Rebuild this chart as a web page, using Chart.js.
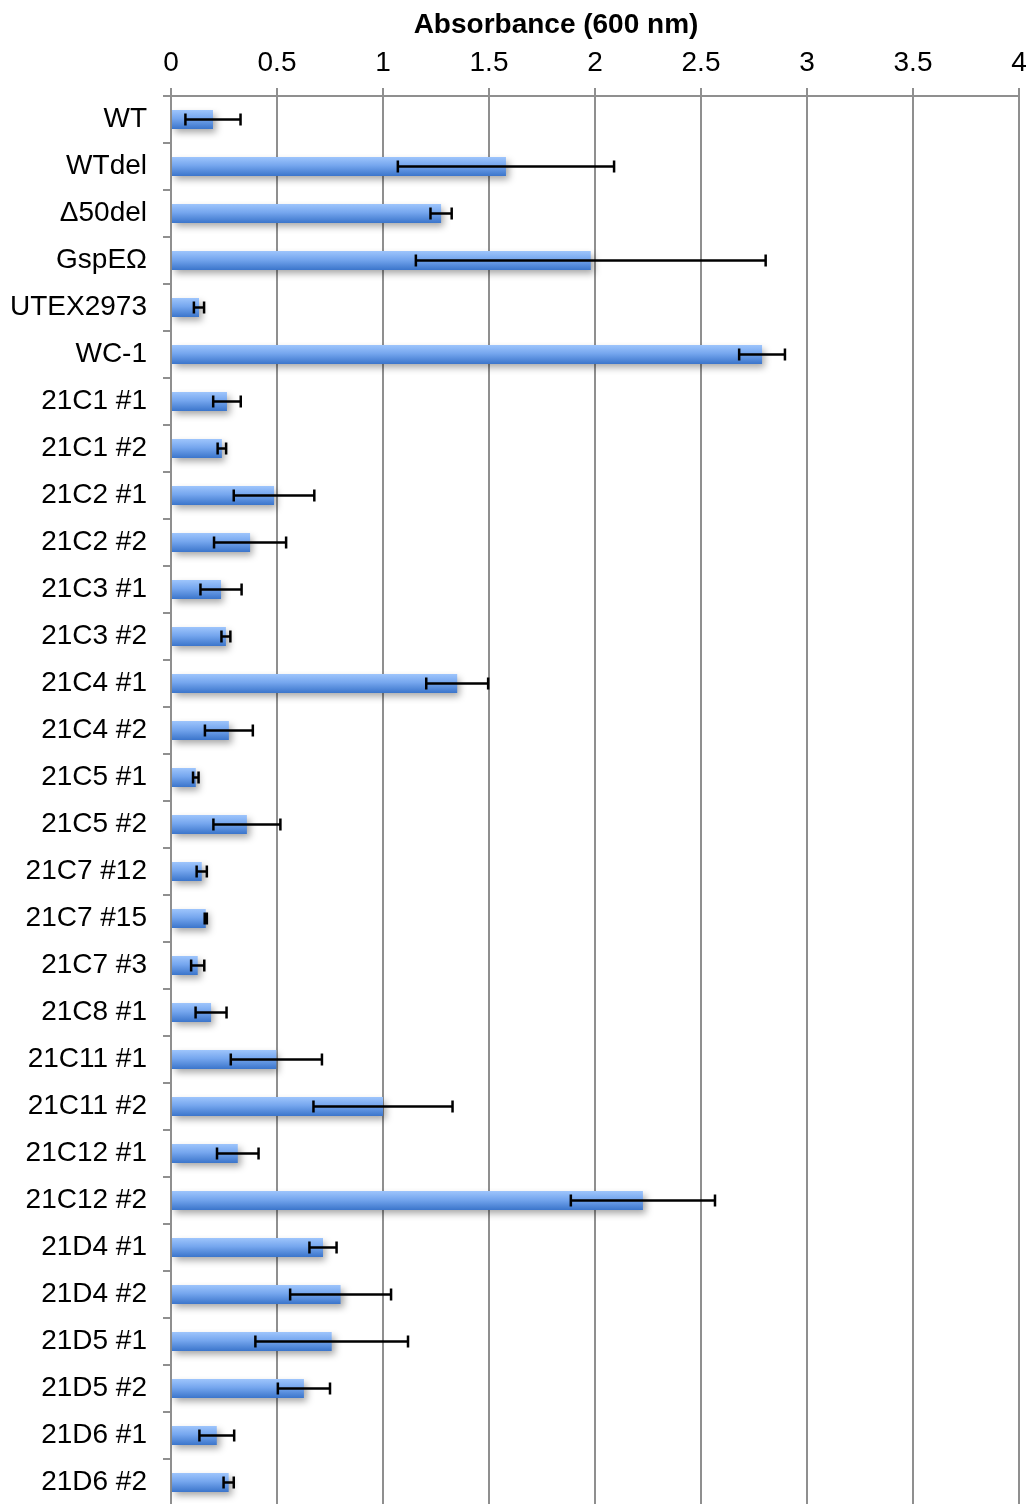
<!DOCTYPE html>
<html>
<head>
<meta charset="utf-8">
<style>
  html, body { margin: 0; padding: 0; background: #ffffff; overflow: hidden; }
  #wrap { width: 1031px; height: 1506px; }
</style>
<script src="https://cdn.jsdelivr.net/npm/chart.js@4.4.1/dist/chart.umd.min.js"></script>
</head>
<body>
<div id="wrap"><canvas id="chart" width="1031" height="1506"></canvas></div>
<script>
// Strains, mean absorbance at 600 nm and the standard deviation of each
const categories = [
  'WT', 'WTdel', 'Δ50del', 'GspEΩ', 'UTEX2973', 'WC-1',
  '21C1 #1', '21C1 #2', '21C2 #1', '21C2 #2', '21C3 #1', '21C3 #2',
  '21C4 #1', '21C4 #2', '21C5 #1', '21C5 #2', '21C7 #12', '21C7 #15',
  '21C7 #3', '21C8 #1', '21C11 #1', '21C11 #2', '21C12 #1', '21C12 #2',
  '21D4 #1', '21D4 #2', '21D5 #1', '21D5 #2', '21D6 #1', '21D6 #2'
];
const absorbance = [
  0.198, 1.58, 1.274, 1.98, 0.132, 2.788,
  0.264, 0.24, 0.486, 0.373, 0.236, 0.259,
  1.35, 0.273, 0.117, 0.358, 0.145, 0.164,
  0.126, 0.189, 0.497, 1.0, 0.315, 2.226,
  0.717, 0.80, 0.758, 0.627, 0.216, 0.272
];
const errors = [
  0.13, 0.51, 0.05, 0.825, 0.024, 0.108,
  0.065, 0.02, 0.19, 0.17, 0.097, 0.021,
  0.146, 0.113, 0.013, 0.158, 0.024, 0.005,
  0.031, 0.073, 0.215, 0.328, 0.098, 0.34,
  0.064, 0.238, 0.36, 0.123, 0.082, 0.024
];
const axisMin = 0;
const axisMax = 4;
const axisStep = 0.5;
const axisTitle = 'Absorbance (600 nm)';

const FONT = '"Liberation Sans", Arial, Helvetica, sans-serif';
const GRID = '#8f8f8f';

// Soft drop shadow under the bars, then the error bars on top
const barDecor = {
  id: 'barDecor',
  beforeDatasetsDraw(chart) {
    const c = chart.ctx;
    c.save();
    c.shadowColor = 'rgba(0,0,0,0.35)';
    c.shadowBlur = 7;
    c.shadowOffsetX = 3;
    c.shadowOffsetY = 4;
  },
  afterDatasetsDraw(chart) {
    const c = chart.ctx;
    c.restore();
    const xs = chart.scales.x;
    const meta = chart.getDatasetMeta(0);
    c.save();
    c.strokeStyle = '#000000';
    c.lineWidth = 2.5;
    c.lineCap = 'butt';
    meta.data.forEach((bar, i) => {
      const y = bar.y;
      const x1 = xs.getPixelForValue(absorbance[i] - errors[i]);
      const x2 = xs.getPixelForValue(absorbance[i] + errors[i]);
      c.beginPath();
      c.moveTo(x1, y); c.lineTo(x2, y);
      c.moveTo(x1, y - 6); c.lineTo(x1, y + 6);
      c.moveTo(x2, y - 6); c.lineTo(x2, y + 6);
      c.stroke();
    });
    c.restore();
  }
};

// Bold axis title above the tick labels
const axisTitlePlugin = {
  id: 'axisTitlePlugin',
  afterDraw(chart) {
    const c = chart.ctx;
    c.save();
    c.font = 'bold 28px ' + FONT;
    c.fillStyle = '#000000';
    c.textAlign = 'center';
    c.textBaseline = 'middle';
    c.fillText(axisTitle, 556, 25);
    c.restore();
  }
};

// Vertical light-to-dark fill for each bar
function barGradient(ctx) {
  const chart = ctx.chart;
  const ys = chart.scales.y;
  if (!ys || ctx.type !== 'data') return '#6b9de8';
  const yc = ys.getPixelForValue(ctx.dataIndex);
  if (!Number.isFinite(yc)) return '#6b9de8';
  const g = chart.ctx.createLinearGradient(0, yc - 9.5, 0, yc + 9.5);
  g.addColorStop(0, '#9ec5fc');
  g.addColorStop(0.45, '#75a6ee');
  g.addColorStop(1, '#3b75cb');
  return g;
}

new Chart(document.getElementById('chart'), {
  type: 'bar',
  data: {
    labels: categories,
    datasets: [{
      data: absorbance,
      backgroundColor: barGradient,
      borderWidth: 0,
      categoryPercentage: 1.0,
      barPercentage: 0.405
    }]
  },
  options: {
    indexAxis: 'y',
    responsive: false,
    animation: false,
    devicePixelRatio: 1,
    layout: { padding: { top: 0, right: 12, bottom: 0, left: 0 } },
    plugins: {
      legend: { display: false },
      tooltip: { enabled: false },
      title: { display: false }
    },
    scales: {
      x: {
        position: 'top',
        min: axisMin,
        max: axisMax,
        ticks: {
          stepSize: axisStep,
          color: '#000000',
          font: { family: FONT, size: 28 },
          padding: 8,
          maxRotation: 0,
          callback: (v) => String(Number(v))
        },
        grid: {
          color: GRID,
          lineWidth: 2,
          drawTicks: true,
          tickLength: 8
        },
        border: { display: true, color: GRID, width: 2 },
        afterFit(scale) {
          scale.height = 96;
          scale.paddingLeft = 0;
          scale.paddingRight = 0;
        }
      },
      y: {
        ticks: {
          color: '#000000',
          font: { family: FONT, size: 28 },
          padding: 16,
          autoSkip: false
        },
        grid: {
          offset: true,
          drawOnChartArea: false,
          drawTicks: true,
          tickLength: 8,
          color: GRID,
          lineWidth: 2
        },
        border: { display: true, color: GRID, width: 2 },
        afterFit(scale) {
          scale.width = 171;
          scale.paddingTop = 0;
          scale.paddingBottom = 0;
        }
      }
    }
  },
  plugins: [barDecor, axisTitlePlugin]
});
</script>
</body>
</html>
